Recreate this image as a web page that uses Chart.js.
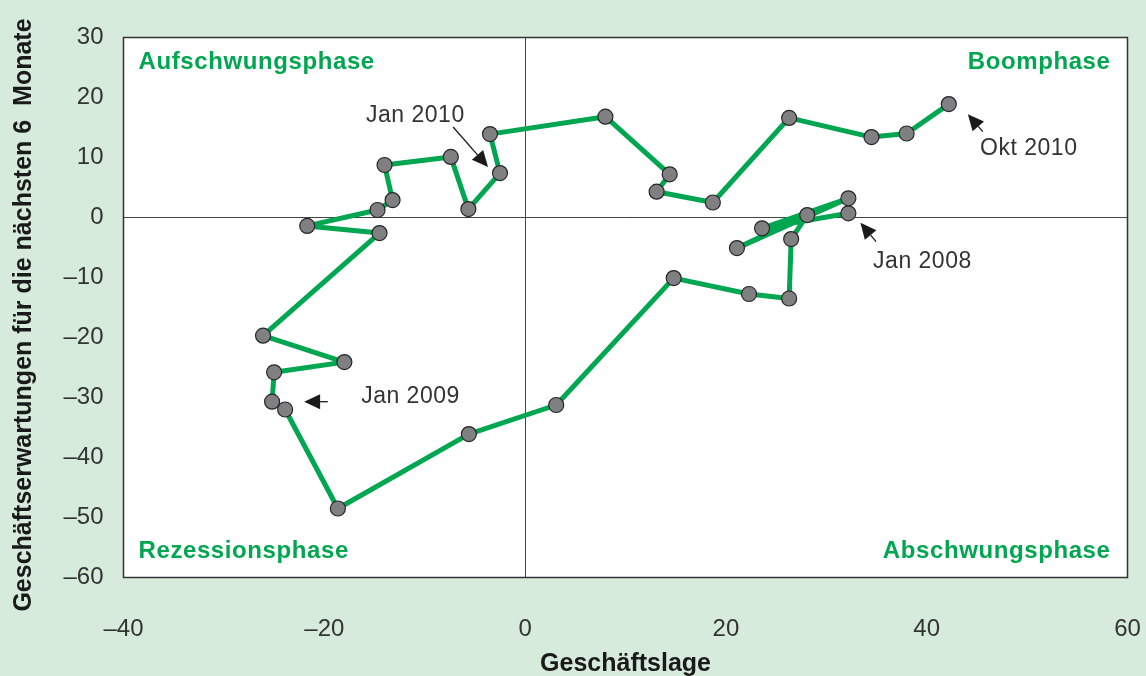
<!DOCTYPE html>
<html>
<head>
<meta charset="utf-8">
<script src="https://cdn.jsdelivr.net/npm/chart.js@4.4.1/dist/chart.umd.min.js"></script>
<style>
  html, body { margin: 0; padding: 0; background: #d6ebdc; }
  #wrap { width: 1146px; height: 676px; position: relative; }
</style>
</head>
<body>
<div id="wrap"><canvas id="c" width="1146" height="676"></canvas></div>
<script>
// Months (Jan 2008 – Okt 2010)
const months = [
  'Jan 2008','Feb 2008','Mär 2008','Apr 2008','Mai 2008','Jun 2008','Jul 2008','Aug 2008','Sep 2008','Okt 2008','Nov 2008','Dez 2008',
  'Jan 2009','Feb 2009','Mär 2009','Apr 2009','Mai 2009','Jun 2009','Jul 2009','Aug 2009','Sep 2009','Okt 2009','Nov 2009','Dez 2009',
  'Jan 2010','Feb 2010','Mär 2010','Apr 2010','Mai 2010','Jun 2010','Jul 2010','Aug 2010','Sep 2010','Okt 2010'
];
// Geschäftslage (x)
const lage = [
  32.2, 23.6, 32.2, 21.1, 28.1, 26.5, 26.3, 22.3, 14.8, 3.1, -5.6, -18.65,
  -23.9, -25.2, -25.0, -18.0, -26.1, -14.5, -21.7, -14.7, -13.2, -14.0, -7.4, -5.65,
  -2.5, -3.5, 8.0, 14.4, 13.1, 18.7, 26.3, 34.5, 38.0, 42.2
];
// Geschäftserwartungen (y)
const erwartungen = [
  0.7, -1.8, 3.2, -5.1, 0.4, -3.6, -13.5, -12.75, -10.1, -31.25, -36.1, -48.5,
  -32.0, -30.7, -25.8, -24.1, -19.7, -2.6, -1.4, 1.25, 2.9, 8.75, 10.1, 1.4,
  7.4, 13.9, 16.8, 7.2, 4.3, 2.5, 16.6, 13.4, 14.0, 18.9
];
const xTicks = [-40, -20, 0, 20, 40, 60];
const yTicks = [30, 20, 10, 0, -10, -20, -30, -40, -50, -60];
const xTitle = 'Geschäftslage';
const yTitle = 'Geschäftserwartungen für die nächsten 6  Monate';

// Annotations: text anchor (data units), arrow tail and tip (data units)
const annotations = [
  { text: 'Jan 2010', tx: -15.84, ty: 15.9,  ax: -7.17, ay: 15.08, bx: -3.69, by: 8.42 },
  { text: 'Okt 2010', tx: 45.32,  ty: 10.42, ax: 45.59, ay: 14.3,  bx: 44.1,  by: 17.2 },
  { text: 'Jan 2008', tx: 34.66,  ty: -8.37, ax: 34.96, ay: -4.03, bx: 33.4,  by: -0.87 },
  { text: 'Jan 2009', tx: -16.33, ty: -30.92, ax: -19.65, ay: -30.7, bx: -22.01, by: -30.7 }
];
const phases = { tl: 'Aufschwungsphase', tr: 'Boomphase', bl: 'Rezessionsphase', br: 'Abschwungsphase' };

const points = lage.map((x, i) => ({ x: x, y: erwartungen[i] }));
const GREEN = '#00a650';
const FONT = "'Liberation Sans', Arial, Helvetica, sans-serif";
const dash = v => String(v).replace('-', '\u2013');

const overlay = {
  id: 'overlay',
  beforeDraw(chart) {
    const { ctx, chartArea: a } = chart;
    ctx.save();
    ctx.fillStyle = '#d6ebdc';
    ctx.fillRect(0, 0, chart.width, chart.height);
    ctx.fillStyle = '#ffffff';
    ctx.fillRect(a.left, a.top, a.right - a.left, a.bottom - a.top);
    ctx.restore();
  },
  afterDraw(chart) {
    const { ctx } = chart;
    ctx.save();
    ctx.fillStyle = '#1a1a1a';
    ctx.font = 'bold 25px ' + FONT;
    ctx.textAlign = 'center';
    ctx.textBaseline = 'middle';
    ctx.translate(24, 315);
    ctx.rotate(-Math.PI / 2);
    ctx.fillText(yTitle, 0, 0);
    ctx.restore();
  },
  afterDatasetsDraw(chart) {
    const { ctx, chartArea: a, scales } = chart;
    const sx = scales.x, sy = scales.y;
    ctx.save();
    // plot frame
    ctx.strokeStyle = '#333333';
    ctx.lineWidth = 1.5;
    ctx.strokeRect(a.left, a.top, a.right - a.left, a.bottom - a.top);
    // phase labels
    ctx.fillStyle = GREEN;
    ctx.font = 'bold 24px ' + FONT;
    ctx.letterSpacing = '0.6px';
    ctx.textBaseline = 'alphabetic';
    ctx.textAlign = 'left';
    ctx.fillText(phases.tl, a.left + 15, a.top + 31);
    ctx.fillText(phases.bl, a.left + 15, a.bottom - 20);
    ctx.textAlign = 'right';
    ctx.fillText(phases.tr, a.right - 17, a.top + 31);
    ctx.fillText(phases.br, a.right - 17, a.bottom - 20);
    // annotations
    ctx.font = '23px ' + FONT;
    ctx.letterSpacing = '0.5px';
    ctx.textAlign = 'left';
    annotations.forEach(an => {
      ctx.fillStyle = '#333333';
      ctx.fillText(an.text, sx.getPixelForValue(an.tx), sy.getPixelForValue(an.ty));
      const x1 = sx.getPixelForValue(an.ax), y1 = sy.getPixelForValue(an.ay);
      const x2 = sx.getPixelForValue(an.bx), y2 = sy.getPixelForValue(an.by);
      const ang = Math.atan2(y2 - y1, x2 - x1);
      const hl = 16, hw = 7.5;
      const bxp = x2 - hl * Math.cos(ang), byp = y2 - hl * Math.sin(ang);
      ctx.strokeStyle = '#1a1a1a';
      ctx.lineWidth = 1.3;
      ctx.beginPath(); ctx.moveTo(x1, y1); ctx.lineTo(bxp, byp); ctx.stroke();
      ctx.fillStyle = '#1a1a1a';
      ctx.beginPath();
      ctx.moveTo(x2, y2);
      ctx.lineTo(bxp + hw * Math.sin(ang), byp - hw * Math.cos(ang));
      ctx.lineTo(bxp - hw * Math.sin(ang), byp + hw * Math.cos(ang));
      ctx.closePath(); ctx.fill();
    });
    ctx.letterSpacing = '0px';
    ctx.restore();
  }
};

new Chart(document.getElementById('c'), {
  type: 'scatter',
  data: {
    labels: months,
    datasets: [{
      data: points,
      showLine: true,
      borderColor: GREEN,
      borderWidth: 5,
      borderJoinStyle: 'round',
      borderCapStyle: 'round',
      pointRadius: 7.5,
      pointBackgroundColor: '#808082',
      pointBorderColor: '#262626',
      pointBorderWidth: 1.2,
      tension: 0
    }]
  },
  options: {
    responsive: false,
    animation: false,
    devicePixelRatio: 1,
    layout: { padding: { top: 37.5, right: 18.5, left: 0, bottom: 0 } },
    plugins: { legend: { display: false }, tooltip: { enabled: false } },
    scales: {
      x: {
        type: 'linear', min: -40, max: 60,
        afterFit(s) { s.height = 98.5; s.paddingLeft = 0; s.paddingRight = 0; },
        afterBuildTicks(s) { s.ticks = xTicks.map(v => ({ value: v })); },
        grid: { drawTicks: false, lineWidth: 1, color: c => c.tick && c.tick.value === 0 ? '#444444' : 'rgba(0,0,0,0)' },
        border: { display: false },
        ticks: { padding: 37, color: '#333333', font: { family: FONT, size: 24 }, callback: dash, maxRotation: 0 },
        title: { display: true, text: xTitle, color: '#1a1a1a', font: { family: FONT, size: 25, weight: 'bold' }, padding: { top: 0, bottom: -3 } }
      },
      y: {
        type: 'linear', min: -60, max: 30,
        afterFit(s) { s.width = 123.5; s.paddingTop = 0; s.paddingBottom = 0; },
        afterBuildTicks(s) { s.ticks = yTicks.map(v => ({ value: v })); },
        grid: { drawTicks: false, lineWidth: 1, color: c => c.tick && c.tick.value === 0 ? '#444444' : 'rgba(0,0,0,0)' },
        border: { display: false },
        ticks: { padding: 20, color: '#333333', font: { family: FONT, size: 24 }, callback: dash },
        title: { display: false }
      }
    }
  },
  plugins: [overlay]
});
</script>
</body>
</html>
